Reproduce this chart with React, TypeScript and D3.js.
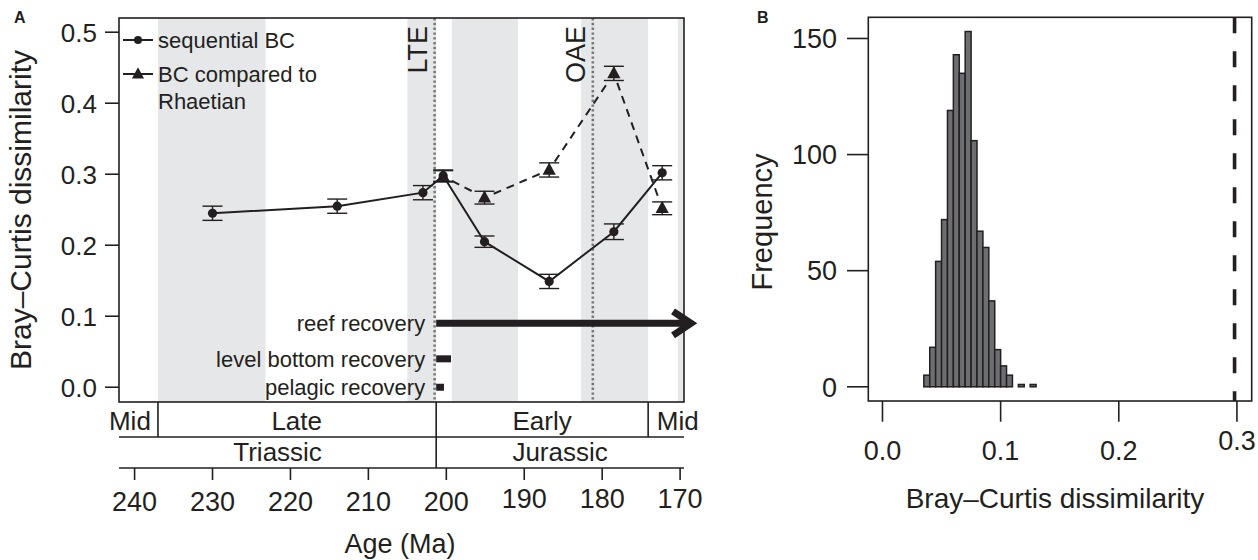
import React from "react";
import * as d3 from "d3";

// ---------- Panel A data ----------
const seqAges = [230, 214, 203, 200.4, 195.1, 186.8, 178.5, 172.3];
const seqBC = [0.245, 0.255, 0.274, 0.298, 0.205, 0.149, 0.219, 0.302];
const seqErr = [0.01, 0.01, 0.01, 0.008, 0.008, 0.01, 0.011, 0.01];

const rhaAges = [200.4, 195.1, 186.8, 178.5, 172.3];
const rhaBC = [0.297, 0.267, 0.306, 0.442, 0.252];
const rhaErr = [0.008, 0.009, 0.01, 0.01, 0.009];

const bandStart = [237, 205, 199.3, 182.7, 170.3];
const bandEnd = [223.2, 201.3, 190.8, 174.1, 169.5];

const eventNames = ["LTE", "OAE"];
const eventAges = [201.5, 181.2];

const recoveryLabels = ["reef recovery", "level bottom recovery", "pelagic recovery"];
const recoveryY = [0.09, 0.04, 0.0];
const recoveryStart = [201.3, 201.3, 201.3];
const recoveryEnd = [168.6, 199.4, 200.3];

const epochNames = ["Mid", "Late", "Early", "Mid"];
const epochStart = [242, 237, 201.3, 174.1];
const epochEnd = [237, 201.3, 174.1, 169.5];
const epochLabelAge = [240.6, 219.2, 187.7, 170.3];
const periodNames = ["Triassic", "Jurassic"];
const periodStart = [242, 201.3];
const periodEnd = [201.3, 169.5];

const ageTicks = [240, 230, 220, 210, 200, 190, 180, 170];
const bcTicks = [0, 0.1, 0.2, 0.3, 0.4, 0.5];

// ---------- Panel B data ----------
const binStarts = [0.035, 0.04, 0.045, 0.05, 0.055, 0.06, 0.065, 0.07, 0.075, 0.08, 0.085, 0.09, 0.095, 0.1, 0.105, 0.11, 0.115, 0.12, 0.125];
const binCounts = [5, 17, 54, 72, 119, 143, 135, 153, 106, 67, 60, 37, 16, 9, 5, 0, 1, 0, 1];
const binWidth = 0.005;
const observedBC = 0.298;
const freqTicks = [0, 50, 100, 150];
const histXTicks = [0, 0.1, 0.2, 0.3];

const FONT = "'Liberation Sans', Arial, Helvetica, sans-serif";
const INK = "#231f20";
const GRAY = "#e6e7e8";

export default function App() {
  // Panel A scales
  const ax = d3.scaleLinear().domain([242, 169.5]).range([119, 684]);
  const ay = d3.scaleLinear().domain([-0.0208, 0.52]).range([402, 18]);
  const line = d3
    .line<[number, number]>()
    .x((d) => ax(d[0]))
    .y((d) => ay(d[1]));
  const seqPts: [number, number][] = seqAges.map((a, i) => [a, seqBC[i]]);

  // dashed series drawn R type="b" style: segments with gaps round the points
  const gap = 10;
  const rhaSegs = rhaAges.slice(1).map((a, i) => {
    const x0 = ax(rhaAges[i]), y0 = ay(rhaBC[i]);
    const x1 = ax(a), y1 = ay(rhaBC[i + 1]);
    const len = Math.hypot(x1 - x0, y1 - y0);
    const ux = (x1 - x0) / len, uy = (y1 - y0) / len;
    return [x0 + ux * gap, y0 + uy * gap, x1 - ux * gap, y1 - uy * gap];
  });

  // Panel B scales
  const bx = d3.scaleLinear().domain([-0.012, 0.3125]).range([868.3, 1251.7]);
  const by = d3.scaleLinear().domain([-6.12, 159.12]).range([401, 17.3]);

  const row1Top = 402, row1Bot = 437, row2Bot = 468;

  const tri = (cx: number, cy: number, s: number) =>
    `M${cx},${cy - s * 0.62} L${cx + s * 0.55},${cy + s * 0.4} L${cx - s * 0.55},${cy + s * 0.4} Z`;

  const errBar = (a: number, v: number, e: number, key: string) => (
    <g key={key} stroke={INK} strokeWidth={1.4}>
      <line x1={ax(a)} x2={ax(a)} y1={ay(v - e)} y2={ay(v + e)} />
      <line x1={ax(a) - 10} x2={ax(a) + 10} y1={ay(v - e)} y2={ay(v - e)} />
      <line x1={ax(a) - 10} x2={ax(a) + 10} y1={ay(v + e)} y2={ay(v + e)} />
    </g>
  );

  const reefY = ay(recoveryY[0]);
  const reefTip = ax(recoveryEnd[0]);

  return (
    <svg
      width={1258}
      height={560}
      style={{ position: "absolute", left: 0, top: 0, background: "#fff" }}
      fontFamily={FONT}
    >
      {/* ================= Panel A ================= */}
      <text x={14} y={23} fontSize={16} fontWeight="bold" fill={INK}>A</text>

      {/* stage bands */}
      {bandStart.map((s, i) => (
        <rect key={"b" + i} x={ax(s)} y={ay(0.52)} width={ax(bandEnd[i]) - ax(s)} height={ay(-0.0208) - ay(0.52)} fill={GRAY} />
      ))}

      {/* event lines */}
      {eventAges.map((a, i) => (
        <g key={"ev" + i}>
          <line x1={ax(a)} x2={ax(a)} y1={ay(0.52)} y2={ay(-0.0208)} stroke="#7a7a7a" strokeWidth={2.6} strokeDasharray="2.4,2.4" />
          <text transform={`translate(${ax(a) - 8},${26}) rotate(-90)`} textAnchor="end" fontSize={27} fill={INK}>
            {eventNames[i]}
          </text>
        </g>
      ))}

      {/* recovery bars */}
      {recoveryLabels.map((lab, i) => (
        <g key={"r" + i}>
          <text x={ax(recoveryStart[i]) - 11} y={ay(recoveryY[i])} dy="0.35em" textAnchor="end" fontSize={22} fill={INK}>
            {lab}
          </text>
          {i > 0 && (
            <line x1={ax(recoveryStart[i])} x2={ax(recoveryEnd[i])} y1={ay(recoveryY[i])} y2={ay(recoveryY[i])} stroke={INK} strokeWidth={7} />
          )}
        </g>
      ))}
      <line x1={ax(recoveryStart[0])} x2={reefTip - 3} y1={reefY} y2={reefY} stroke={INK} strokeWidth={7} />
      <polyline
        points={`${reefTip - 18},${reefY - 12} ${reefTip},${reefY} ${reefTip - 18},${reefY + 12}`}
        fill="none"
        stroke={INK}
        strokeWidth={7}
        strokeLinejoin="miter"
      />

      {/* series lines */}
      <path d={line(seqPts) || ""} fill="none" stroke={INK} strokeWidth={2} />
      {rhaSegs.map((s, i) => (
        <line key={"rs" + i} x1={s[0]} y1={s[1]} x2={s[2]} y2={s[3]} stroke={INK} strokeWidth={2} strokeDasharray="8,6" />
      ))}

      {/* error bars + markers */}
      {seqAges.map((a, i) => errBar(a, seqBC[i], seqErr[i], "se" + i))}
      {rhaAges.map((a, i) => errBar(a, rhaBC[i], rhaErr[i], "re" + i))}
      {seqAges.map((a, i) => (
        <circle key={"sc" + i} cx={ax(a)} cy={ay(seqBC[i])} r={4.6} fill={INK} />
      ))}
      {rhaAges.map((a, i) => (
        <path key={"rt" + i} d={tri(ax(a), ay(rhaBC[i]), 12)} fill={INK} />
      ))}

      {/* legend */}
      <line x1={123} x2={153} y1={40} y2={40} stroke={INK} strokeWidth={2} />
      <circle cx={138} cy={40} r={4} fill={INK} />
      <text x={158} y={40} dy="0.35em" fontSize={22} fill={INK}>sequential BC</text>
      <line x1={123} x2={153} y1={74} y2={74} stroke={INK} strokeWidth={2} />
      <path d={tri(138, 74, 11)} fill={INK} />
      <text x={158} y={74} dy="0.35em" fontSize={22} fill={INK}>BC compared to</text>
      <text x={158} y={101} dy="0.35em" fontSize={22} fill={INK}>Rhaetian</text>

      {/* plot box */}
      <rect x={119} y={18} width={684 - 119} height={402 - 18} fill="none" stroke={INK} strokeWidth={1.6} />

      {/* y axis */}
      {bcTicks.map((t) => (
        <g key={"yt" + t}>
          <line x1={105} x2={119} y1={ay(t)} y2={ay(t)} stroke={INK} strokeWidth={1.6} />
          <text x={97} y={ay(t)} dy="0.36em" textAnchor="end" fontSize={26} fill={INK}>
            {t.toFixed(1)}
          </text>
        </g>
      ))}
      <text transform={`translate(31,${(18 + 402) / 2}) rotate(-90)`} textAnchor="middle" fontSize={30} fill={INK}>
        Bray–Curtis dissimilarity
      </text>

      {/* time scale */}
      <line x1={ax(242)} x2={ax(169.5)} y1={row1Bot} y2={row1Bot} stroke={INK} strokeWidth={1.6} />
      <line x1={ax(242)} x2={ax(169.5)} y1={row2Bot} y2={row2Bot} stroke={INK} strokeWidth={1.6} />
      {epochNames.map((n, i) => (
        <g key={"ep" + i}>
          {i > 0 && (
            <line
              x1={ax(epochStart[i])}
              x2={ax(epochStart[i])}
              y1={row1Top}
              y2={epochStart[i] === periodStart[1] ? row2Bot : row1Bot}
              stroke={INK}
              strokeWidth={1.6}
            />
          )}
          <text x={ax(epochLabelAge[i])} y={430} textAnchor="middle" fontSize={26} fill={INK}>
            {n}
          </text>
        </g>
      ))}
      {periodNames.map((n, i) => (
        <text key={"pn" + i} x={(ax(periodStart[i]) + ax(periodEnd[i])) / 2} y={461} textAnchor="middle" fontSize={26} fill={INK}>
          {n}
        </text>
      ))}

      {/* x axis */}
      {ageTicks.map((t) => (
        <g key={"xt" + t}>
          <line x1={ax(t)} x2={ax(t)} y1={row2Bot} y2={480} stroke={INK} strokeWidth={1.6} />
          <text x={ax(t)} y={t >= 200 ? 511 : 508} textAnchor="middle" fontSize={27} fill={INK}>
            {t}
          </text>
        </g>
      ))}
      <text x={400} y={553} textAnchor="middle" fontSize={27} fill={INK}>Age (Ma)</text>

      {/* ================= Panel B ================= */}
      <text x={757} y={23} fontSize={16} fontWeight="bold" fill={INK}>B</text>

      {binStarts.map((s, i) =>
        binCounts[i] > 0 ? (
          <rect
            key={"h" + i}
            x={bx(s)}
            y={by(binCounts[i])}
            width={bx(s + binWidth) - bx(s)}
            height={by(0) - by(binCounts[i])}
            fill="#6d6e71"
            stroke={INK}
            strokeWidth={1.5}
          />
        ) : null
      )}

      <line x1={bx(observedBC)} x2={bx(observedBC)} y1={17.3} y2={401} stroke={INK} strokeWidth={3.6} strokeDasharray="16,18" />

      <rect x={868.3} y={17.3} width={1251.7 - 868.3} height={401 - 17.3} fill="none" stroke={INK} strokeWidth={1.6} />

      {freqTicks.map((t) => (
        <g key={"ft" + t}>
          <line x1={847} x2={868.3} y1={by(t)} y2={by(t)} stroke={INK} strokeWidth={1.6} />
          <text x={837} y={by(t)} dy="0.36em" textAnchor="end" fontSize={27} fill={INK}>
            {t}
          </text>
        </g>
      ))}
      <text transform={`translate(772,222) rotate(-90)`} textAnchor="middle" fontSize={29} fill={INK}>
        Frequency
      </text>

      {histXTicks.map((t, i) => (
        <g key={"hx" + t}>
          <line x1={bx(t)} x2={bx(t)} y1={401} y2={421.7} stroke={INK} strokeWidth={1.6} />
          <text x={bx(t)} y={i === histXTicks.length - 1 ? 450 : 460} textAnchor="middle" fontSize={27} fill={INK}>
            {t.toFixed(1)}
          </text>
        </g>
      ))}
      <text x={1055} y={508} textAnchor="middle" fontSize={28} fill={INK}>
        Bray–Curtis dissimilarity
      </text>
    </svg>
  );
}
